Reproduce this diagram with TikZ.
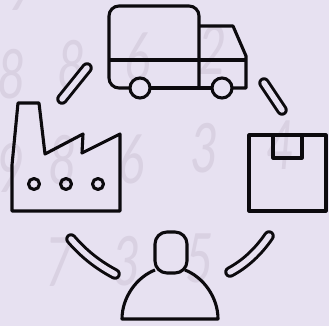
\documentclass[tikz,border=0pt]{standalone}
\usepackage{fontspec}
\setsansfont{Lato}
\usepackage{xcolor}
\definecolor{PaleLilac}{RGB}{231,225,241}
\definecolor{DigitLilac}{RGB}{217,209,226}
\definecolor{IconInk}{RGB}{12,10,14}

\begin{document}
\begin{tikzpicture}[x=1pt,y=-1pt,line join=round]
\tikzset{
  icon/.style={draw=IconInk,line width=3.1pt},
  capsule/.style={draw=IconInk,line width=3pt,double=PaleLilac,double distance=5.5pt,line cap=round},
  digit/.style={text=DigitLilac,font=\fontsize{68}{68}\selectfont\sffamily\itshape,inner sep=0pt,xscale=.72,transform shape}
}
\fill[PaleLilac] (0,0) rectangle (329,326);
\useasboundingbox (0,0) rectangle (329,326);
% faint digits behind the icons
\foreach \nx/\ny/\val [count=\i] in {12/74/8,72/65/8,138/57/6,213/50/2,205/148/3,281/145/4,132/159/6,63/160/8,11/168/9,60/262/7,127/261/3,200/258/5,22/-14/9}
  \node[digit] (num\i) at (\nx,\ny) {\val};
% truck
\draw[icon] (130,88) -- (119,88) arc[start angle=90,end angle=180,radius=10] -- (109,16) arc[start angle=180,end angle=270,radius=10] -- (189,6) arc[start angle=270,end angle=360,radius=10] -- (199,88);
\draw[icon] (199,26) -- (233,26) -- (246,56) -- (246,88) -- (232,88);
\draw[icon] (150,88) -- (212,88);
\draw[icon] (109,60) -- (246,60);
\node[icon,circle,minimum size=20pt,inner sep=0pt] (wheelL) at (140,88) {};
\node[icon,circle,minimum size=20pt,inner sep=0pt] (wheelR) at (222,88) {};
% factory
\draw[icon] (12,211) -- (12,165) -- (18,103) -- (39,103) -- (45,154) -- (83,134) -- (82,153) -- (120,134) -- (120,211) -- cycle;
\foreach \dx [count=\i] in {34,66,98}
  \node[icon,circle,minimum size=11pt,inner sep=0pt] (dot\i) at (\dx,184) {};
% parcel
\draw[icon] (249,135) rectangle (326,211);
\draw[icon] (273,135) -- (273,158) -- (302,158) -- (302,135);
% person
\draw[icon] (155,244) arc[start angle=180,end angle=270,radius=12] -- (175,232) arc[start angle=270,end angle=360,radius=12] -- (187,261) arc[start angle=0,end angle=90,radius=12] -- (167,273) arc[start angle=90,end angle=180,radius=12] -- cycle;
\draw[icon] (155,270) .. controls (137,277) and (122,297) .. (122,319) -- (218,319) .. controls (218,297) and (203,277) .. (185,270);
% links between the icons
\draw[capsule] (62,99) -- (87,68);
\draw[capsule] (264,83) -- (282,110);
\draw[capsule] (71,239) .. controls (84,254) and (98,265) .. (115,274);
\draw[capsule] (230,272) .. controls (245,264) and (258,252) .. (269,236);
\end{tikzpicture}
\end{document}
